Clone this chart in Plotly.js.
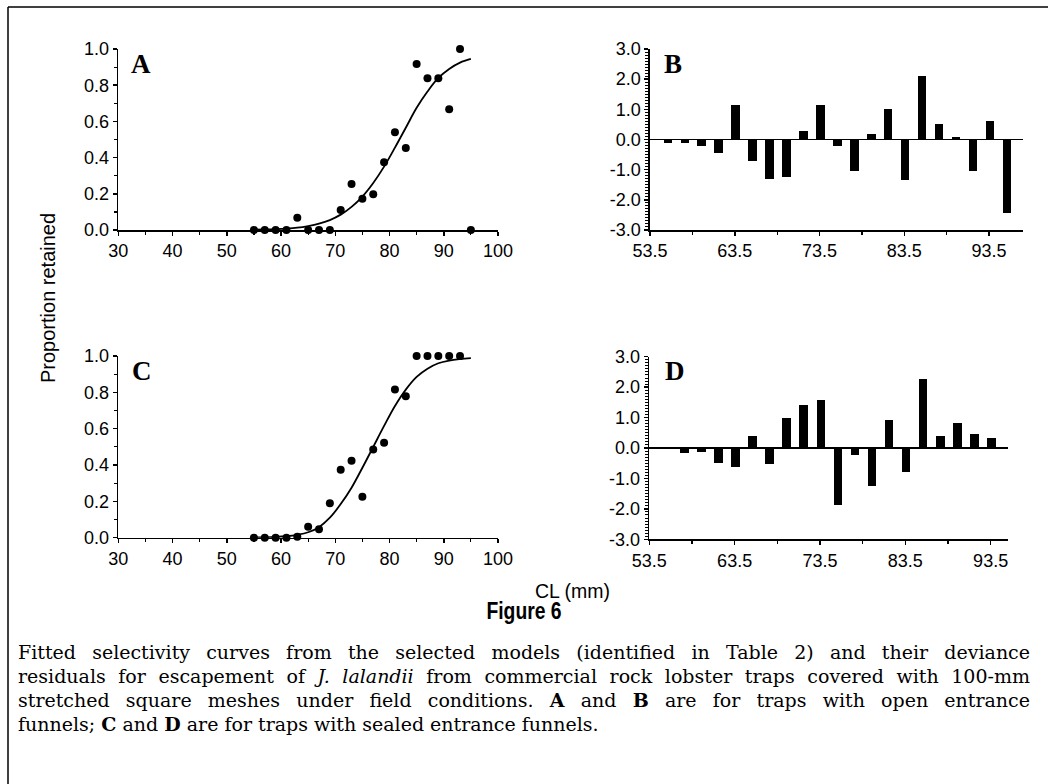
<!DOCTYPE html>
<html>
<head>
<meta charset="utf-8">
<script src="https://cdn.plot.ly/plotly-3.0.1.min.js"></script>
<style>
  html, body { margin: 0; padding: 0; background: #fff; }
  #wrap { position: relative; width: 1048px; height: 784px; overflow: hidden; }
  #chart { position: absolute; left: 0; top: 0; width: 1048px; height: 784px; }
  #figtitle { position: absolute; left: 424px; width: 200px; top: 598px; text-align: center;
              font-family: "Liberation Sans", Arial, sans-serif; font-weight: bold; font-size: 23px;
              line-height: 27px; color: #000; transform: scaleX(0.84); transform-origin: 50% 50%; }
  #caption { position: absolute; left: 18px; top: 640px; width: 1012px;
             font-family: "DejaVu Serif", serif; font-size: 19px;
             line-height: 24px; color: #000; }
  #caption .ln { text-align: justify; text-align-last: justify; white-space: nowrap; }
  #caption .ln.last { text-align-last: left; }
</style>
</head>
<body>
<div id="wrap">
  <div id="chart"></div>
  <div id="figtitle">Figure 6</div>
  <div id="caption">
    <div class="ln">Fitted selectivity curves from the selected models (identified in Table 2) and their deviance</div>
    <div class="ln">residuals for escapement of <i>J. lalandii</i> from commercial rock lobster traps covered with 100-mm</div>
    <div class="ln">stretched square meshes under field conditions. <b>A</b> and <b>B</b> are for traps with open entrance</div>
    <div class="ln last">funnels; <b>C</b> and <b>D</b> are for traps with sealed entrance funnels.</div>
  </div>
</div>
<script>
// ---- Data ----
const clA   = [55, 57, 59, 61, 63, 65, 67, 69, 71, 73, 75, 77, 79, 81, 83, 85, 87, 89, 91, 93, 95];
const propA = [0, 0, 0, 0, 0.068, 0, 0, 0, 0.11, 0.254, 0.173, 0.197, 0.374, 0.54, 0.453, 0.917, 0.838, 0.838, 0.667, 1.0, 0];

const clC   = [55, 57, 59, 61, 63, 65, 67, 69, 71, 73, 75, 77, 79, 81, 83, 85, 87, 89, 91, 93];
const propC = [0, 0, 0, 0, 0.005, 0.06, 0.046, 0.19, 0.374, 0.424, 0.226, 0.486, 0.523, 0.815, 0.778, 1.0, 1.0, 1.0, 1.0, 1.0];

const fitCL = [55, 57, 59, 61, 63, 65, 67, 69, 71, 73, 75, 77, 79, 81, 83, 85, 87, 89, 91, 93, 95];
const fitA  = [0.002, 0.003, 0.005, 0.008, 0.013, 0.022, 0.035, 0.055, 0.085, 0.128, 0.185, 0.26, 0.35, 0.455, 0.565, 0.675, 0.765, 0.84, 0.89, 0.925, 0.945];
const fitC  = [0.001, 0.002, 0.004, 0.008, 0.016, 0.03, 0.058, 0.11, 0.185, 0.275, 0.385, 0.5, 0.615, 0.725, 0.815, 0.885, 0.93, 0.96, 0.975, 0.983, 0.988];

const residXB = [55.6, 57.6, 59.6, 61.6, 63.6, 65.6, 67.6, 69.6, 71.6, 73.6, 75.6, 77.6, 79.6, 81.6, 83.6, 85.6, 87.6, 89.6, 91.6, 93.6, 95.6];
const residB  = [-0.11, -0.12, -0.23, -0.46, 1.14, -0.72, -1.31, -1.24, 0.28, 1.14, -0.2, -1.03, 0.19, 1.02, -1.33, 2.09, 0.5, 0.07, -1.03, 0.63, -2.43];

const residXD = [57.6, 59.6, 61.6, 63.6, 65.6, 67.6, 69.6, 71.6, 73.6, 75.6, 77.6, 79.6, 81.6, 83.6, 85.6, 87.6, 89.6, 91.6, 93.6];
const residD  = [-0.18, -0.13, -0.48, -0.64, 0.39, -0.51, 0.99, 1.41, 1.59, -1.87, -0.22, -1.24, 0.91, -0.8, 2.26, 0.39, 0.82, 0.47, 0.32];

const propTicks  = [0, 0.2, 0.4, 0.6, 0.8, 1.0];
const propLabels = ["0.0", "0.2", "0.4", "0.6", "0.8", "1.0"];
const resTicks   = [-3, -2, -1, 0, 1, 2, 3];
const resLabels  = ["-3.0", "-2.0", "-1.0", "0.0", "1.0", "2.0", "3.0"];
const residXTicks = [53.5, 63.5, 73.5, 83.5, 93.5];

// ---- Layout helpers ----
const W = 1048, H = 784;
const px = v => v / W;
const py = v => 1 - v / H;
const SANS = "'Liberation Sans', Arial, sans-serif";
const tickFont = {family: SANS, size: 18, color: "#000"};

function axisBase(extra) {
  return Object.assign({
    showline: true, linecolor: "#000", linewidth: 1.6,
    ticks: "outside", ticklen: 4, tickwidth: 1.5, tickcolor: "#000",
    showgrid: false, zeroline: false, tickfont: tickFont, fixedrange: true
  }, extra);
}

const traces = [
  {x: fitCL, y: fitA, type: "scatter", mode: "lines", line: {color: "#000", width: 1.8, shape: "spline", smoothing: 1}, xaxis: "x", yaxis: "y", cliponaxis: false, hoverinfo: "skip"},
  {x: clA, y: propA, type: "scatter", mode: "markers", marker: {color: "#000", size: 8}, xaxis: "x", yaxis: "y", cliponaxis: false},
  {x: residXB, y: residB, type: "bar", width: 1.0, marker: {color: "#000", line: {width: 0}}, xaxis: "x2", yaxis: "y2"},
  {x: fitCL, y: fitC, type: "scatter", mode: "lines", line: {color: "#000", width: 1.8, shape: "spline", smoothing: 1}, xaxis: "x3", yaxis: "y3", cliponaxis: false, hoverinfo: "skip"},
  {x: clC, y: propC, type: "scatter", mode: "markers", marker: {color: "#000", size: 8}, xaxis: "x3", yaxis: "y3", cliponaxis: false},
  {x: residXD, y: residD, type: "bar", width: 1.0, marker: {color: "#000", line: {width: 0}}, xaxis: "x4", yaxis: "y4"}
];

const propX = ax => axisBase({range: [30, 100], tickmode: "linear", tick0: 30, dtick: 10,
  minor: {dtick: 5, tick0: 30, ticks: "outside", ticklen: 3, tickwidth: 1.2, tickcolor: "#000"}, anchor: ax});
const propY = ax => axisBase({range: [0, 1], tickmode: "array", tickvals: propTicks, ticktext: propLabels,
  minor: {tickmode: "linear", tick0: 0, dtick: 0.1, ticks: "outside", ticklen: 3, tickwidth: 1.2, tickcolor: "#000"}, anchor: ax});
const resX = (ax, hi) => axisBase({range: [53.5, hi], tickmode: "array", tickvals: residXTicks,
  minor: {tick0: 53.5, dtick: 5, ticks: "outside", ticklen: 3, tickwidth: 1.2, tickcolor: "#000"}, anchor: ax});
const resY = ax => axisBase({range: [-3, 3], tickmode: "array", tickvals: resTicks, ticktext: resLabels,
  zeroline: true, zerolinecolor: "#000", zerolinewidth: 1.8,
  minor: {tickmode: "linear", tick0: -3, dtick: 0.1, ticks: "outside", ticklen: 3, tickwidth: 1, tickcolor: "#000"}, anchor: ax});

const letterFont = {family: "'Liberation Serif', 'Times New Roman', serif", size: 27, color: "#000"};
const letter = (t, x, y) => ({text: "<b>" + t + "</b>", x: px(x), y: py(y), xref: "paper", yref: "paper",
  showarrow: false, xanchor: "center", yanchor: "middle", font: letterFont});

const layout = {
  width: W, height: H, margin: {l: 0, r: 0, t: 0, b: 0},
  paper_bgcolor: "#fff", plot_bgcolor: "#fff", showlegend: false, bargap: 0,
  xaxis:  Object.assign(propX("y"),  {domain: [px(118.3), px(498)]}),
  yaxis:  Object.assign(propY("x"),  {domain: [py(230), py(49)]}),
  xaxis2: Object.assign(resX("y2", 97.5), {domain: [px(650), px(1023)]}),
  yaxis2: Object.assign(resY("x2"), {domain: [py(230), py(49)]}),
  xaxis3: Object.assign(propX("y3"), {domain: [px(118.3), px(498)]}),
  yaxis3: Object.assign(propY("x3"), {domain: [py(537.7), py(356)]}),
  xaxis4: Object.assign(resX("y4", 95.5), {domain: [px(649.3), px(1007.7)]}),
  yaxis4: Object.assign(resY("x4"), {domain: [py(539.3), py(356.7)]}),
  annotations: [
    letter("A", 141, 64), letter("B", 673, 64), letter("C", 141.5, 371), letter("D", 674.5, 371.5),
    {text: "Proportion retained", x: px(48), y: py(298), xref: "paper", yref: "paper", showarrow: false, textangle: -90,
     xanchor: "center", yanchor: "middle", font: {family: SANS, size: 20, color: "#000"}},
    {text: "CL (mm)", x: px(572), y: py(591), xref: "paper", yref: "paper", showarrow: false,
     xanchor: "center", yanchor: "middle", font: {family: SANS, size: 19.5, color: "#000"}}
  ],
  shapes: [
    {type: "line", xref: "paper", yref: "paper", x0: px(8), x1: px(8), y0: 0, y1: py(7), line: {color: "#000", width: 1.5}},
    {type: "line", xref: "paper", yref: "paper", x0: px(8), x1: 1, y0: py(7), y1: py(7), line: {color: "#000", width: 1.5}}
  ]
};

Plotly.newPlot("chart", traces, layout, {staticPlot: true, displayModeBar: false});
</script>
</body>
</html>
